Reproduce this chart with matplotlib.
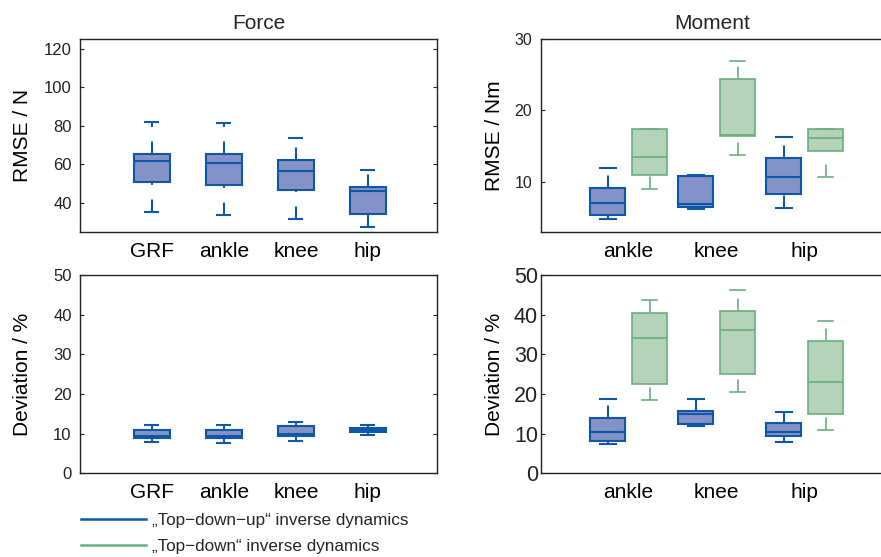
import matplotlib
matplotlib.use("Agg")
import matplotlib.pyplot as plt
from matplotlib.lines import Line2D

plt.rcParams['font.family'] = ['Liberation Sans', 'DejaVu Sans']
plt.rcParams['lines.scale_dashes'] = False
plt.rcParams['text.color'] = '#262626'

# ---- data (q1, median, q3, lower cap, upper cap) ----
force_labels = ["GRF", "ankle", "knee", "hip"]
force_rmse_lo = [35.2, 33.8, 31.9, 27.7]
force_rmse_q1 = [50.9, 49.4, 46.9, 34.1]
force_rmse_med = [62.0, 60.8, 56.6, 46.2]
force_rmse_q3 = [65.5, 65.3, 62.3, 48.3]
force_rmse_hi = [81.9, 81.6, 73.9, 57.0]

force_dev_lo = [7.8, 7.7, 8.2, 9.6]
force_dev_q1 = [8.8, 8.9, 9.3, 10.5]
force_dev_med = [9.3, 9.3, 10.0, 11.0]
force_dev_q3 = [11.0, 11.0, 11.9, 11.5]
force_dev_hi = [12.2, 12.3, 13.0, 12.1]

moment_labels = ["ankle", "knee", "hip"]
# "Top-down-up" (blue)
mom_rmse_tdu_lo = [4.75, 6.16, 6.35]
mom_rmse_tdu_q1 = [5.41, 6.53, 8.27]
mom_rmse_tdu_med = [7.05, 6.96, 10.66]
mom_rmse_tdu_q3 = [9.16, 10.8, 13.42]
mom_rmse_tdu_hi = [11.9, 10.94, 16.28]
# "Top-down" (green)
mom_rmse_td_lo = [9.06, 13.84, 10.75]
mom_rmse_td_q1 = [11.03, 16.42, 14.4]
mom_rmse_td_med = [13.47, 16.51, 16.14]
mom_rmse_td_q3 = [17.45, 24.38, 17.35]
mom_rmse_td_hi = [17.45, 26.86, 17.45]

mom_dev_tdu_lo = [7.4, 11.8, 7.9]
mom_dev_tdu_q1 = [8.15, 12.35, 9.5]
mom_dev_tdu_med = [10.5, 14.9, 10.5]
mom_dev_tdu_q3 = [14.0, 15.7, 12.7]
mom_dev_tdu_hi = [18.8, 18.7, 15.5]

mom_dev_td_lo = [18.6, 20.4, 10.9]
mom_dev_td_q1 = [22.6, 25.0, 15.0]
mom_dev_td_med = [34.1, 36.1, 23.0]
mom_dev_td_q3 = [40.3, 40.9, 33.4]
mom_dev_td_hi = [43.6, 46.3, 38.5]

legend_labels = ["\u201eTop\u2212down\u2212up\u201c inverse dynamics",
                 "\u201eTop\u2212down\u201c inverse dynamics"]

blue_edge = '#0f58a8'
blue_face = '#8592c8'
green_edge = '#6aae7f'
green_face = '#b4d3b8'
dash = (0, (9, 10.5))


def stats(lo, q1, med, q3, hi):
    return [dict(whislo=a, q1=b, med=c, q3=d, whishi=e, fliers=[])
            for a, b, c, d, e in zip(lo, q1, med, q3, hi)]


def draw(ax, st, pos, width, edge, face, lw):
    r = ax.bxp(st, positions=pos, widths=width, patch_artist=True,
               showfliers=False, manage_ticks=False,
               boxprops=dict(facecolor=face, edgecolor=edge, linewidth=lw),
               medianprops=dict(color=edge, linewidth=lw),
               whiskerprops=dict(color=edge, linewidth=lw, linestyle=dash),
               capprops=dict(color=edge, linewidth=lw),
               capwidths=0.18)
    # lower whiskers are drawn upward from the cap (as in the original)
    for w in r['whiskers'][0::2]:
        x, y = w.get_data()
        w.set_data(x[::-1], y[::-1])
    return r


def style(ax, ylabel, ytick_size, labelx, cut=False):
    for s in ax.spines.values():
        s.set_linewidth(1.0)
        s.set_color('#222222')
    ax.tick_params(axis='y', direction='in', length=3, right=not cut,
                   labelsize=ytick_size, colors='#222222', pad=6)
    ax.tick_params(axis='x', length=0, labelsize=15, pad=7)
    if cut:
        # right-hand panels run off the edge of the figure
        ax.spines['right'].set_visible(False)
    ax.set_ylabel(ylabel, fontsize=15)
    ax.yaxis.set_label_coords(labelx, 0.5)


fig = plt.figure(figsize=(8.81, 5.57), dpi=100)

ax1 = fig.add_axes([0.0908, 0.5835, 0.4052, 0.3465])
ax2 = fig.add_axes([0.6137, 0.5835, 0.4052, 0.3465])
ax3 = fig.add_axes([0.0908, 0.1503, 0.4052, 0.356])
ax4 = fig.add_axes([0.6137, 0.1503, 0.4052, 0.356])

fpos = list(range(1, len(force_labels) + 1))
mpos = list(range(1, len(moment_labels) + 1))
bpos = [p - 0.2375 for p in mpos]
gpos = [p + 0.2375 for p in mpos]

# Force RMSE
draw(ax1, stats(force_rmse_lo, force_rmse_q1, force_rmse_med, force_rmse_q3, force_rmse_hi),
     fpos, 0.5, blue_edge, blue_face, 1.5)
ax1.set_xlim(0, 4.96)
ax1.set_ylim(25, 125)
ax1.set_yticks([40, 60, 80, 100, 120])
ax1.set_xticks(fpos)
ax1.set_xticklabels(force_labels)
ax1.set_title("Force", fontsize=15, pad=7)
style(ax1, "RMSE / N", 12, -0.135)

# Moment RMSE
draw(ax2, stats(mom_rmse_tdu_lo, mom_rmse_tdu_q1, mom_rmse_tdu_med, mom_rmse_tdu_q3, mom_rmse_tdu_hi),
     bpos, 0.403, blue_edge, blue_face, 1.5)
draw(ax2, stats(mom_rmse_td_lo, mom_rmse_td_q1, mom_rmse_td_med, mom_rmse_td_q3, mom_rmse_td_hi),
     gpos, 0.403, green_edge, green_face, 1.2)
ax2.set_xlim(0, 4.057)
ax2.set_ylim(3, 30)
ax2.set_yticks([10, 20, 30])
ax2.set_xticks(mpos)
ax2.set_xticklabels(moment_labels)
ax2.set_title("Moment", fontsize=15, pad=7, x=0.48)
style(ax2, "RMSE / Nm", 11.5, -0.103, cut=True)

# Force deviation
draw(ax3, stats(force_dev_lo, force_dev_q1, force_dev_med, force_dev_q3, force_dev_hi),
     fpos, 0.5, blue_edge, blue_face, 1.5)
ax3.set_xlim(0, 4.96)
ax3.set_ylim(0, 50)
ax3.set_yticks([0, 10, 20, 30, 40, 50])
ax3.set_xticks(fpos)
ax3.set_xticklabels(force_labels)
style(ax3, "Deviation / %", 12, -0.135)

# Moment deviation
draw(ax4, stats(mom_dev_tdu_lo, mom_dev_tdu_q1, mom_dev_tdu_med, mom_dev_tdu_q3, mom_dev_tdu_hi),
     bpos, 0.403, blue_edge, blue_face, 1.5)
draw(ax4, stats(mom_dev_td_lo, mom_dev_td_q1, mom_dev_td_med, mom_dev_td_q3, mom_dev_td_hi),
     gpos, 0.403, green_edge, green_face, 1.2)
ax4.set_xlim(0, 4.057)
ax4.set_ylim(0, 50)
ax4.set_yticks([0, 10, 20, 30, 40, 50])
ax4.set_xticks(mpos)
ax4.set_xticklabels(moment_labels)
style(ax4, "Deviation / %", 15.5, -0.103, cut=True)
ax4.tick_params(axis='y', pad=2)

handles = [Line2D([], [], color=blue_edge, linewidth=1.8),
           Line2D([], [], color=green_edge, linewidth=1.8)]
fig.legend(handles, legend_labels, loc='upper left', bbox_to_anchor=(0.092, 0.079),
           frameon=False, fontsize=12.3, handlelength=3.8, handletextpad=0.38,
           labelspacing=0.65, borderaxespad=0, borderpad=0)

fig.savefig("out.png", dpi=100)
